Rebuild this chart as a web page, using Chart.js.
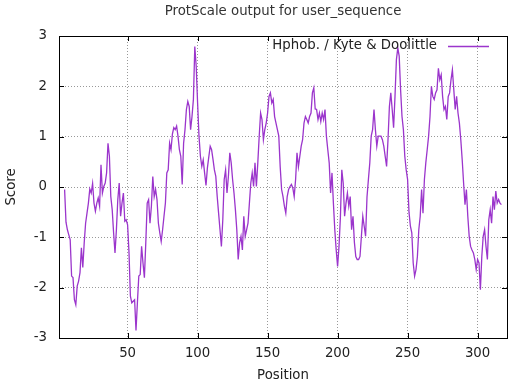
<!DOCTYPE html>
<html>
<head>
<meta charset="utf-8">
<script src="https://cdn.jsdelivr.net/npm/chart.js@4.4.0/dist/chart.umd.min.js"></script>
<style>
  html, body { margin: 0; padding: 0; background: #fff; }
</style>
</head>
<body>
<canvas id="myChart" width="510" height="384"></canvas>
<script>
// chart texts
const chartTitle = 'ProtScale output for user_sequence';
const seriesLabel = 'Hphob. / Kyte & Doolittle';
const xTitle = 'Position';
const yTitle = 'Score';

// first window position, then one score per position
const firstPosition = 5;
const scores = [
  -0.05, -0.7, -0.85, -0.95, -1.05, -1.77, -1.8, -2.24, -2.34, -1.97,
  -1.87, -1.7, -1.21, -1.6, -1.11, -0.72, -0.52, -0.32, -0.04, -0.12,
  0.07, -0.32, -0.48, -0.32, -0.22, -0.38, 0.44, -0.12, 0.01, 0.08,
  0.28, 0.87, 0.61, -0.19, -0.45, -0.91, -1.31, -0.85, -0.25, 0.08,
  -0.58, -0.32, -0.12, -0.68, -0.65, -0.75, -1.3, -2.17, -2.3, -2.27,
  -2.24, -2.85, -2.3, -1.77, -1.74, -1.18, -1.51, -1.8, -1.1, -0.32,
  -0.25, -0.72, -0.38, 0.21, -0.19, -0.05, -0.25, -0.72, -0.91, -1.08,
  -0.85, -0.58, -0.32, 0.28, 0.34, 0.87, 0.74, 1.05, 1.18, 1.14,
  1.21, 1.01, 0.74, 0.61, 0.05, 0.87, 1.14, 1.54, 1.7, 1.6,
  1.14, 1.4, 1.74, 2.79, 2.4, 1.67, 1.01, 0.61, 0.41, 0.54,
  0.28, 0.03, 0.38, 0.6, 0.81, 0.74, 0.55, 0.34, 0.21, -0.19,
  -0.52, -0.85, -1.18, -0.65, 0.15, 0.34, -0.12, 0.21, 0.68, 0.48,
  0.15, -0.12, -0.45, -0.85, -1.44, -1.11, -0.98, -1.25, -0.58, -0.98,
  -0.85, -0.72, -0.32, 0.08, 0.28, 0.01, 0.48, 0.01, 0.48, 1.01,
  1.47, 1.34, 0.94, 1.14, 1.27, 1.47, 1.8, 1.87, 1.67, 1.74,
  1.4, 1.27, 1.14, 1.01, 0.4, -0.05, -0.19, -0.38, -0.52, -0.19,
  -0.05, 0.01, 0.05, -0.02, -0.19, 0.15, 0.68, 0.4, 0.61, 0.81,
  0.94, 1.27, 1.4, 1.34, 1.27, 1.4, 1.47, 1.87, 1.97, 1.55,
  1.54, 1.34, 1.47, 1.3, 1.47, 1.34, 1.54, 1.01, 0.74, 0.48,
  -0.12, 0.28, -0.32, -0.85, -1.25, -1.58, -1.18, -0.6, 0.34, 0.08,
  -0.58, -0.32, -0.12, -0.38, -0.19, -0.85, -0.58, -1.1, -1.38, -1.44,
  -1.44, -1.38, -0.98, -0.58, -0.78, -0.98, -0.2, 0.15, 0.48, 1.01,
  1.14, 1.54, 1.14, 0.81, 1.01, 1.01, 1.01, 0.94, 0.81, 0.61,
  0.41, 0.94, 1.6, 1.87, 1.54, 1.18, 1.8, 2.53, 2.76, 2.6,
  1.93, 1.4, 1.14, 0.61, 0.34, 0.15, -0.5, -0.78, -0.91, -1.51,
  -1.77, -1.64, -1.38, -0.85, -0.58, -0.05, -0.52, 0.15, 0.48, 0.74,
  1.01, 1.4, 2.0, 1.8, 1.74, 1.87, 1.93, 2.36, 2.13, 2.23,
  1.8, 1.54, 1.6, 1.34, 1.8, 1.87, 2.13, 2.33, 1.93, 1.54,
  1.8, 1.47, 1.27, 0.94, 0.54, 0.08, -0.35, -0.05, -0.58, -0.98,
  -1.18, -1.25, -1.31, -1.44, -1.64, -1.44, -1.51, -2.04, -1.38, -0.98,
  -0.85, -1.18, -1.44, -0.65, -0.45, -0.72, -0.19, -0.45, -0.08, -0.32,
  -0.25, -0.32, -0.35
];

// axes
const xRange = [1, 321];
const xTicks = [50, 100, 150, 200, 250, 300];
const yTicks = [-3, -2, -1, 0, 1, 2, 3];

const lineColor = '#9b35cc';
const fontFamily = "'DejaVu Sans', 'Liberation Sans', sans-serif";
const fontSize = 13.3;

const points = scores.map((s, i) => ({ x: firstPosition + i, y: s }));

// title centred over the plot box, like gnuplot does it
const titlePlugin = {
  id: 'plotTitle',
  afterDraw(chart) {
    const { ctx, chartArea: a } = chart;
    ctx.save();
    ctx.font = fontSize + 'px ' + fontFamily;
    ctx.fillStyle = '#333';
    ctx.textAlign = 'center';
    ctx.textBaseline = 'middle';
    ctx.fillText(chartTitle, (a.left + a.right) / 2, 12);
    ctx.restore();
  }
};

// frame with small inward tick marks
const framePlugin = {
  id: 'frame',
  afterDatasetsDraw(chart) {
    const { ctx, chartArea: a, scales } = chart;
    ctx.save();
    ctx.strokeStyle = '#000';
    ctx.lineWidth = 1;
    ctx.setLineDash([]);
    ctx.beginPath();
    xTicks.forEach(v => {
      const px = Math.round(scales.x.getPixelForValue(v)) + 0.5;
      ctx.moveTo(px, a.bottom); ctx.lineTo(px, a.bottom - 5);
      ctx.moveTo(px, a.top); ctx.lineTo(px, a.top + 5);
    });
    yTicks.forEach(v => {
      const py = Math.round(scales.y.getPixelForValue(v)) + 0.5;
      ctx.moveTo(a.left, py); ctx.lineTo(a.left + 5, py);
      ctx.moveTo(a.right, py); ctx.lineTo(a.right - 5, py);
    });
    ctx.stroke();
    ctx.strokeRect(Math.round(a.left) + 0.5, Math.round(a.top) + 0.5,
      Math.round(a.right - a.left), Math.round(a.bottom - a.top));
    ctx.restore();
  }
};

// key in the top right corner: text, then line sample
const keyPlugin = {
  id: 'key',
  afterDraw(chart) {
    const { ctx, chartArea: a } = chart;
    const ds = chart.data.datasets[0];
    const y = a.top + 10;
    ctx.save();
    ctx.font = fontSize + 'px ' + fontFamily;
    ctx.fillStyle = '#222';
    ctx.textAlign = 'right';
    ctx.textBaseline = 'middle';
    ctx.fillText(ds.label, a.right - 70, y);
    ctx.strokeStyle = ds.borderColor;
    ctx.lineWidth = ds.borderWidth;
    ctx.beginPath();
    ctx.moveTo(a.right - 59, y + 0.5);
    ctx.lineTo(a.right - 18, y + 0.5);
    ctx.stroke();
    ctx.restore();
  }
};

const ctx = document.getElementById('myChart').getContext('2d');
const chart = new Chart(ctx, {
  type: 'line',
  data: {
    datasets: [{
      label: seriesLabel,
      data: points,
      borderColor: lineColor,
      backgroundColor: lineColor,
      borderWidth: 1.3,
      pointRadius: 0,
      tension: 0,
      fill: false
    }]
  },
  options: {
    responsive: false,
    animation: false,
    devicePixelRatio: 1,
    parsing: false,
    layout: { padding: { left: 0, right: 3, top: 36, bottom: 0 } },
    plugins: {
      legend: { display: false },
      tooltip: { enabled: false },
      title: { display: false }
    },
    scales: {
      x: {
        type: 'linear',
        min: xRange[0],
        max: xRange[1],
        afterBuildTicks: s => { s.ticks = xTicks.map(v => ({ value: v })); },
        afterFit: s => { s.height = 46; },
        grid: { color: '#999', lineWidth: 1, drawTicks: false },
        border: { display: false, dash: [1, 2] },
        ticks: { color: '#222', padding: 8, maxRotation: 0, font: { family: fontFamily, size: fontSize } },
        title: { display: true, text: xTitle, color: '#222', font: { family: fontFamily, size: fontSize }, padding: { top: 0, bottom: 0 } }
      },
      y: {
        min: yTicks[0],
        max: yTicks[yTicks.length - 1],
        afterBuildTicks: s => { s.ticks = yTicks.map(v => ({ value: v })); },
        afterFit: s => { s.width = 59; },
        grid: { color: '#999', lineWidth: 1, drawTicks: false },
        border: { display: false, dash: [1, 2] },
        ticks: { color: '#222', padding: 12, font: { family: fontFamily, size: fontSize } },
        title: { display: true, text: yTitle, color: '#222', font: { family: fontFamily, size: fontSize }, padding: { top: 4, bottom: 0 } }
      }
    }
  },
  plugins: [titlePlugin, framePlugin, keyPlugin]
});
</script>
</body>
</html>
